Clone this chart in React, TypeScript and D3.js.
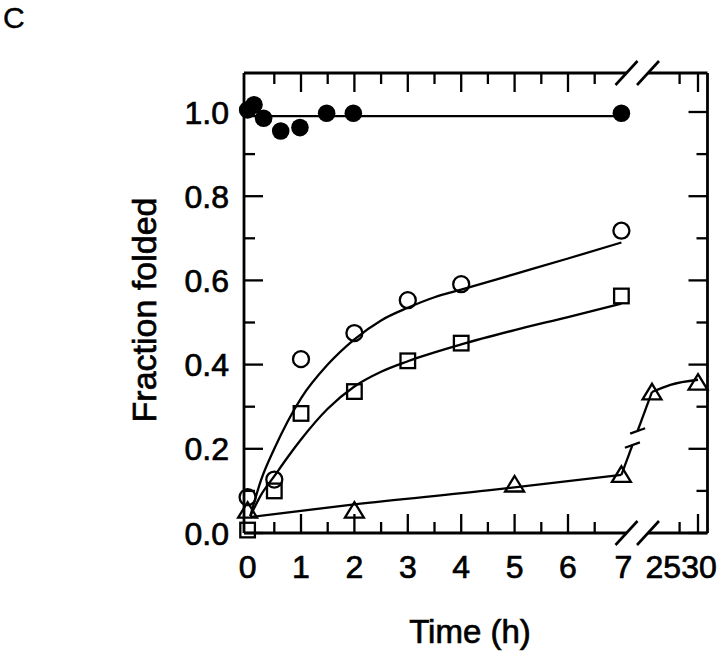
import React from 'react';
import * as d3 from 'd3';

// ---------- data ----------
const filledT = [0, 0.12, 0.3, 0.62, 0.98, 1.48, 1.98, 7];
const filledV = [1.005, 1.017, 0.985, 0.955, 0.963, 0.997, 0.997, 0.997];
const filledFitT = [0, 7];
const filledFitV = [0.99, 0.99];

const circleT = [0, 0.5, 1, 2, 3, 4, 7];
const circleV = [0.085, 0.127, 0.413, 0.475, 0.553, 0.591, 0.718];
const circleFitT = [0.05, 0.25, 0.5, 0.75, 1, 1.5, 2, 2.5, 3, 3.5, 4, 5, 6, 7];
const circleFitV = [0.04, 0.125, 0.2, 0.265, 0.32, 0.4, 0.46, 0.505, 0.535, 0.56, 0.578, 0.615, 0.652, 0.69];

const squareT = [0, 0.5, 1, 2, 3, 4, 7];
const squareV = [0.007, 0.1, 0.284, 0.336, 0.409, 0.451, 0.563];
const squareFitT = [0.05, 0.25, 0.5, 0.75, 1, 1.5, 2, 2.5, 3, 4, 5, 6, 7];
const squareFitV = [0.04, 0.09, 0.135, 0.18, 0.222, 0.295, 0.348, 0.383, 0.408, 0.448, 0.482, 0.513, 0.545];

const triT = [0, 2, 5, 7, 25, 30];
const triV = [0.052, 0.052, 0.114, 0.137, 0.333, 0.356];
const triFitT = [0.05, 2, 4.5, 7];
const triFitV = [0.038, 0.068, 0.101, 0.138];
const triLateT = [25, 27, 30];
const triLateV = [0.335, 0.352, 0.364];

const yMajor = [0, 0.2, 0.4, 0.6, 0.8, 1.0];
const yMinor = [0.1, 0.3, 0.5, 0.7, 0.9];
const yLabels = ['0.0', '0.2', '0.4', '0.6', '0.8', '1.0'];
const xMajor1 = [1, 2, 3, 4, 5, 6];
const xMinor1 = [0.5, 1.5, 2.5, 3.5, 4.5, 5.5, 6.5];
const xLabels1 = [0, 1, 2, 3, 4, 5, 6, 7];
const xMajor2 = [30];
const xMinor2 = [28];

// ---------- layout ----------
const W = 720, H = 651;
const L = 244, R = 707.5, T = 73, B = 533;
const x1 = d3.scaleLinear().domain([0, 7]).range([247.6, 621.4]);
const x2 = d3.scaleLinear().domain([25, 30]).range([652, 698]);
const y = d3.scaleLinear().domain([0, 1]).range([533, 112]);
const xs = (t: number) => (t <= 7.5 ? x1(t) : x2(t));
const breakA = 626.5, breakB = 648;
const FONT = '"Liberation Sans", Arial, Helvetica, sans-serif';
const MAJ = 19, MIN = 11;

const line = d3.line<[number, number]>().x(d => xs(d[0])).y(d => y(d[1])).curve(d3.curveMonotoneX);
const zip = (a: number[], b: number[]) => a.map((v, i) => [v, b[i]] as [number, number]);

function Slash({ cx, cy }: { cx: number; cy: number }) {
  return <line x1={cx - 11} y1={cy + 12} x2={cx + 11} y2={cy - 12} stroke="#000" strokeWidth={2.6} />;
}

export default function App() {
  const sw = 2.8;
  const p7: [number, number] = [xs(7), y(triFitV[triFitV.length - 1])];
  const p25: [number, number] = [xs(25), y(triLateV[0])];
  const lerp = (f: number): [number, number] => [p7[0] + (p25[0] - p7[0]) * f, p7[1] + (p25[1] - p7[1]) * f];
  const g1 = lerp(0.36), g2 = lerp(0.53);
  const dash = (c: [number, number]) => (
    <line x1={c[0] - 7.5} y1={c[1] + 2.7} x2={c[0] + 7.5} y2={c[1] - 2.7} stroke="#000" strokeWidth={2.2} />
  );
  const tri = (cx: number, cy: number) => {
    const s = 9;
    return `M${cx},${cy - s}L${cx + s * 1.05},${cy + s * 0.72}L${cx - s * 1.05},${cy + s * 0.72}Z`;
  };
  const textStroke = { stroke: '#000', strokeWidth: 0.7 };
  return (
    <svg width={W} height={H} style={{ position: 'absolute', left: 0, top: 0, background: '#fff' }} fontFamily={FONT}>
      <rect x={0} y={0} width={W} height={H} fill="#fff" />
      <text x={3} y={28} fontSize={30} {...textStroke} strokeWidth={0.4}>C</text>

      {/* frame */}
      <g stroke="#000" strokeWidth={sw} fill="none">
        <line x1={L} y1={T} x2={L} y2={B} />
        <line x1={R} y1={T} x2={R} y2={B} />
        <line x1={L} y1={T} x2={breakA} y2={T} />
        <line x1={breakB} y1={T} x2={R} y2={T} />
        <line x1={L} y1={B} x2={breakA} y2={B} />
        <line x1={breakB} y1={B} x2={R} y2={B} />
      </g>
      <Slash cx={breakA} cy={T} />
      <Slash cx={breakB} cy={T} />
      <Slash cx={breakA} cy={B} />
      <Slash cx={breakB} cy={B} />

      {/* ticks */}
      <g stroke="#000" strokeWidth={2.3}>
        {yMajor.map(v => (
          <g key={'ym' + v}>
            <line x1={L} x2={L + MAJ} y1={y(v)} y2={y(v)} />
            <line x1={R} x2={R - MAJ} y1={y(v)} y2={y(v)} />
          </g>
        ))}
        {yMinor.map(v => (
          <g key={'yn' + v}>
            <line x1={L} x2={L + MIN} y1={y(v)} y2={y(v)} />
            <line x1={R} x2={R - MIN} y1={y(v)} y2={y(v)} />
          </g>
        ))}
        {[...xMajor1.map(t => [x1(t), MAJ]), ...xMinor1.map(t => [x1(t), MIN]), ...xMajor2.map(t => [x2(t), MAJ]), ...xMinor2.map(t => [x2(t), MIN])].map(([px, len], i) => (
          <g key={'xt' + i}>
            <line x1={px} x2={px} y1={B} y2={B - len} />
            <line x1={px} x2={px} y1={T} y2={T + len} />
          </g>
        ))}
      </g>

      {/* tick labels */}
      <g fontSize={32} fill="#000" {...textStroke}>
        {yMajor.map((v, i) => (
          <text key={'yl' + v} x={229} y={y(v) + 11.5} textAnchor="end">{yLabels[i]}</text>
        ))}
        {xLabels1.map(t => (
          <text key={'xl' + t} x={x1(t) + (t === 7 ? 2 : 0)} y={578} textAnchor="middle">{t}</text>
        ))}
        <text x={x2(30) - 17} y={578} textAnchor="end">25</text>
        <text x={x2(30) + 1} y={578} textAnchor="middle">30</text>
      </g>

      {/* axis titles */}
      <text x={470} y={643} fontSize={33} textAnchor="middle" {...textStroke}>Time (h)</text>
      <text transform={`translate(156,310) rotate(-90)`} fontSize={34} textAnchor="middle" {...textStroke}>Fraction folded</text>

      {/* fit lines */}
      <g fill="none" stroke="#000" strokeWidth={2.3}>
        <path d={line(zip(filledFitT, filledFitV)) || ''} />
        <path d={line(zip(circleFitT, circleFitV)) || ''} />
        <path d={line(zip(squareFitT, squareFitV)) || ''} />
        <path d={line(zip(triFitT, triFitV)) || ''} />
        <path d={line(zip(triLateT, triLateV)) || ''} />
        <line x1={p7[0]} y1={p7[1]} x2={g1[0]} y2={g1[1]} />
        <line x1={g2[0]} y1={g2[1]} x2={p25[0]} y2={p25[1]} />
      </g>
      {dash(g1)}
      {dash(g2)}

      {/* markers */}
      <g fill="#000">
        {filledT.map((t, i) => (
          <circle key={'f' + i} cx={xs(t)} cy={y(filledV[i])} r={8.8} />
        ))}
      </g>
      <g fill="none" stroke="#000" strokeWidth={2.3}>
        {circleT.map((t, i) => (
          <circle key={'c' + i} cx={xs(t)} cy={y(circleV[i])} r={8} />
        ))}
        {squareT.map((t, i) => (
          <rect key={'s' + i} x={xs(t) - 7.3} y={y(squareV[i]) - 7.3} width={14.6} height={14.6} />
        ))}
        {triT.map((t, i) => (
          <path key={'t' + i} d={tri(xs(t), y(triV[i]))} />
        ))}
      </g>
    </svg>
  );
}
